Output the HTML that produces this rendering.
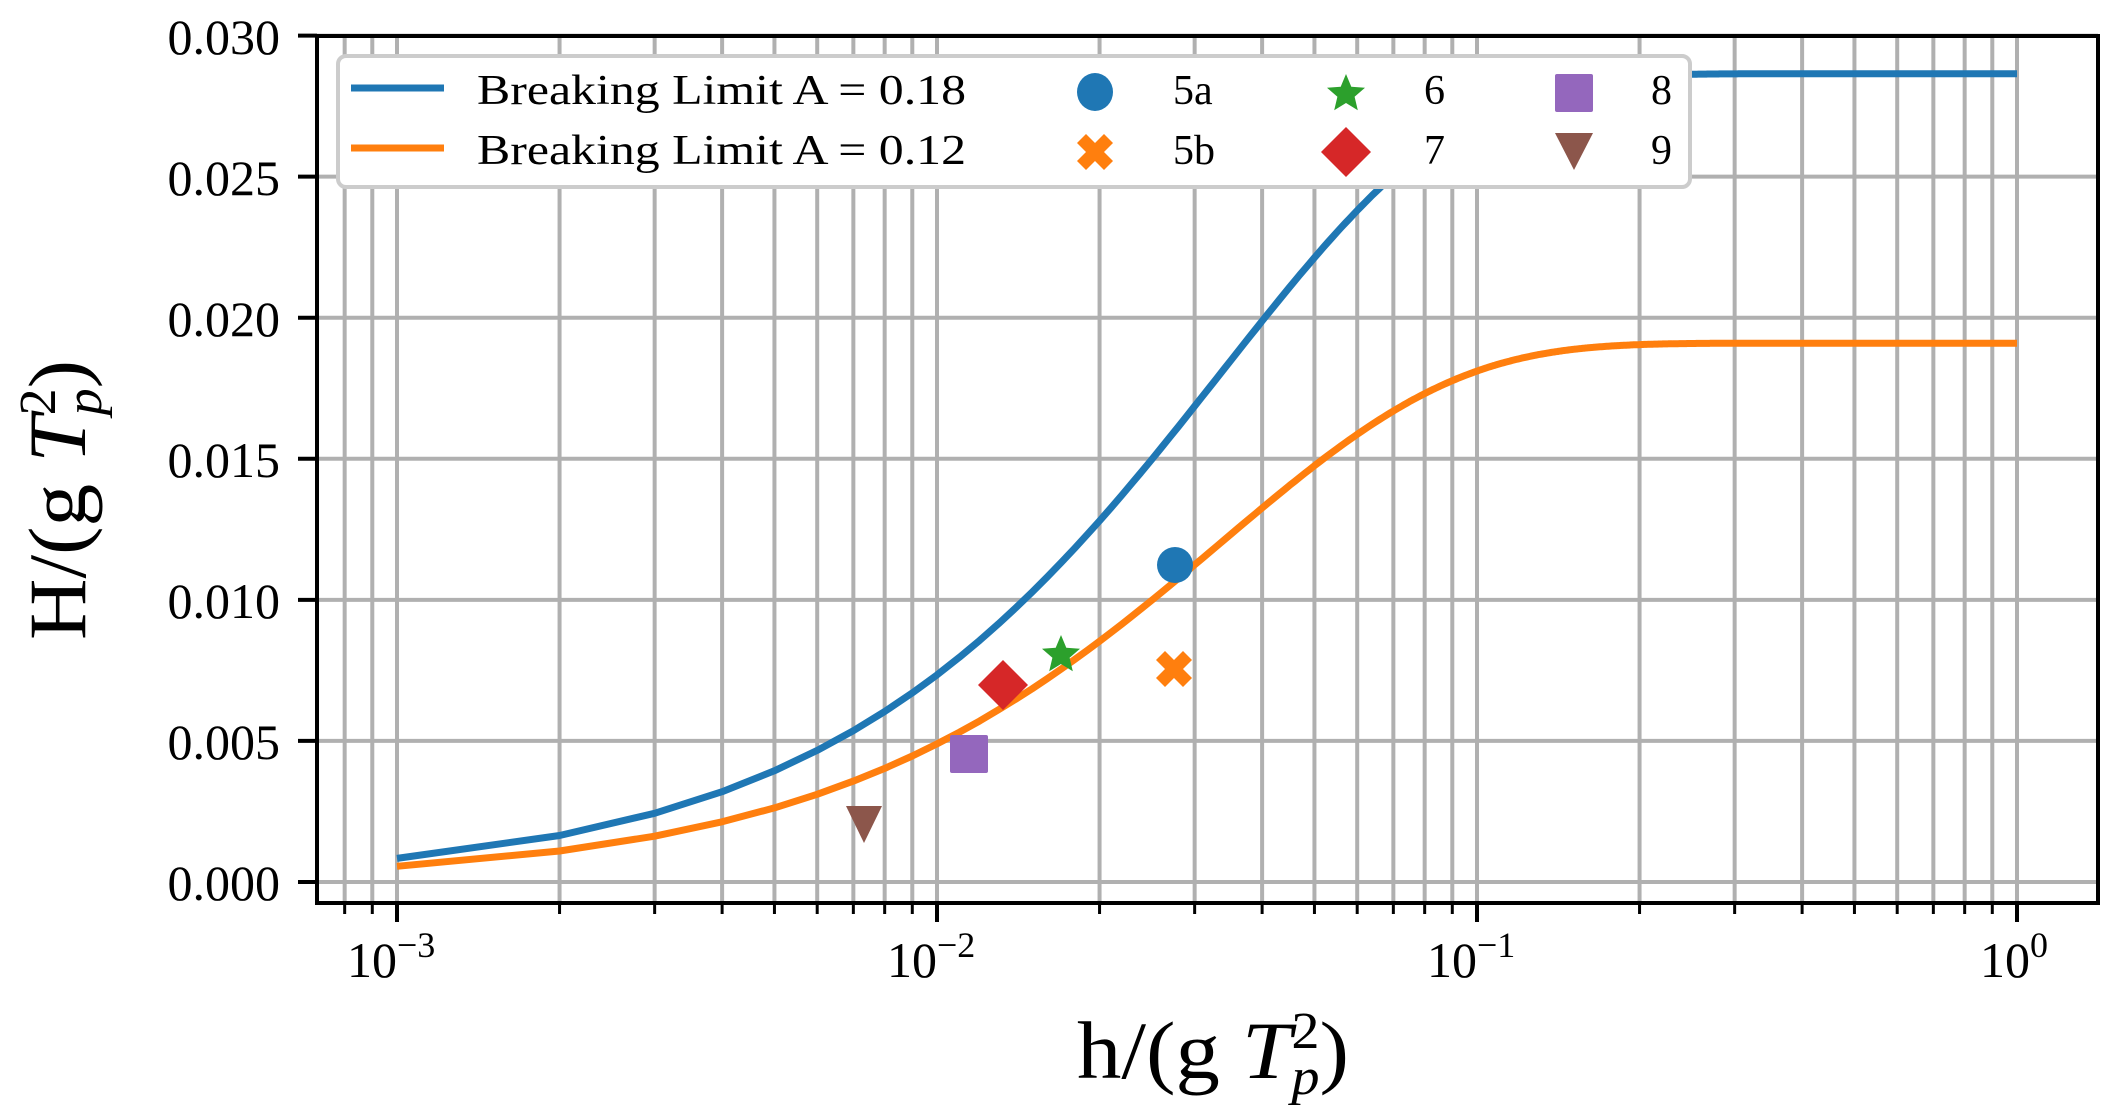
<!DOCTYPE html>
<html><head><meta charset="utf-8"><style>
html,body{margin:0;padding:0;background:#fff;}
svg{display:block;}
text{font-family:"Liberation Serif",serif;fill:#000;}
</style></head><body>
<svg id="s" width="2126" height="1118" viewBox="0 0 2126 1118" xmlns="http://www.w3.org/2000/svg">
<defs><clipPath id="ax"><rect x="317" y="36" width="1781" height="867"/></clipPath></defs>
<g id="grid" stroke="#b0b0b0" stroke-width="4"></g>
<g id="ticks" stroke="#000" stroke-width="3"></g>
<g clip-path="url(#ax)">
<path id="blue" fill="none" stroke="#1f77b4" stroke-width="7" stroke-linejoin="round"/>
<path id="orange" fill="none" stroke="#ff7f0e" stroke-width="7" stroke-linejoin="round"/>
</g>
<!-- markers -->
<circle cx="1175" cy="565" r="18" fill="#1f77b4"/>
<path d="M1174,669 m-18,-9 l9,-9 l9,9 l9,-9 l9,9 l-9,9 l9,9 l-9,9 l-9,-9 l-9,9 l-9,-9 l9,-9z" fill="#ff7f0e"/>
<polygon id="star1" fill="#2ca02c"/>
<polygon points="1003,660 1028,685 1003,710 978,685" fill="#d62728"/>
<rect x="950" y="735" width="38" height="38" rx="2" fill="#9467bd"/>
<polygon points="846,806 882,806 864,843" fill="#8c564b"/>
<!-- spines -->
<rect x="317" y="36" width="1781" height="867" fill="none" stroke="#000" stroke-width="4"/>
<!-- y tick labels -->
<g font-size="50" text-anchor="end">
<text x="280" y="900">0.000</text>
<text x="280" y="759">0.005</text>
<text x="280" y="618">0.010</text>
<text x="280" y="477">0.015</text>
<text x="280" y="336">0.020</text>
<text x="280" y="195">0.025</text>
<text x="280" y="54">0.030</text>
</g>
<!-- x tick labels -->
<g font-size="50">
<text x="347" y="977">10<tspan font-size="36" dy="-20">−3</tspan></text>
<text x="887" y="977">10<tspan font-size="36" dy="-20">−2</tspan></text>
<text x="1427" y="977">10<tspan font-size="36" dy="-20">−1</tspan></text>
<text x="1980" y="977">10<tspan font-size="36" dy="-20">0</tspan></text>
</g>
<!-- axis labels -->
<text x="1077" y="1078" font-size="82" textLength="272" lengthAdjust="spacingAndGlyphs">h/(g <tspan font-style="italic">T</tspan><tspan font-size="52" dy="-30">2</tspan><tspan font-size="52" font-style="italic" dx="-26" dy="46">p</tspan><tspan dy="-16">)</tspan></text>
<text transform="translate(85,640) rotate(-90)" font-size="82" textLength="280" lengthAdjust="spacingAndGlyphs">H/(g <tspan font-style="italic">T</tspan><tspan font-size="52" dy="-30">2</tspan><tspan font-size="52" font-style="italic" dx="-26" dy="46">p</tspan><tspan dy="-16">)</tspan></text>
<!-- legend -->
<rect x="338" y="56" width="1352" height="131" rx="8" fill="#fff" stroke="#cccccc" stroke-width="4"/>
<line x1="351" y1="88" x2="444" y2="88" stroke="#1f77b4" stroke-width="7"/>
<line x1="351" y1="148" x2="444" y2="148" stroke="#ff7f0e" stroke-width="7"/>
<g font-size="42">
<text x="477" y="104" textLength="489" lengthAdjust="spacingAndGlyphs">Breaking Limit A = 0.18</text>
<text x="477" y="164" textLength="489" lengthAdjust="spacingAndGlyphs">Breaking Limit A = 0.12</text>
<text x="1173" y="104">5a</text>
<text x="1173" y="164">5b</text>
<text x="1424" y="104">6</text>
<text x="1424" y="164">7</text>
<text x="1651" y="104">8</text>
<text x="1651" y="164">9</text>
</g>
<ellipse cx="1095" cy="92" rx="18" ry="19" fill="#1f77b4"/>
<path d="M1095,152 m-18,-9 l9,-9 l9,9 l9,-9 l9,9 l-9,9 l9,9 l-9,9 l-9,-9 l-9,9 l-9,-9 l9,-9z" fill="#ff7f0e"/>
<polygon id="star2" fill="#2ca02c"/>
<polygon points="1346,127 1371,152 1346,177 1321,152" fill="#d62728"/>
<rect x="1555" y="74" width="38" height="38" rx="2" fill="#9467bd"/>
<polygon points="1555,133 1593,133 1574,170" fill="#8c564b"/>
</svg>
<script>
(function(){
var X0=397, DEC=540, Y0=882, YS=846.4/0.03;
function px(v){return X0+(Math.log10(v)+3)*DEC;}
function py(v){return Y0-v*YS;}
var g=document.getElementById('grid'), t=document.getElementById('ticks');
var gs='', ts='';
for(var e=-4;e<=0;e++){for(var m=1;m<=9;m++){var v=m*Math.pow(10,e);var x=px(v);
 if(x<319||x>2096)continue;
 gs+='<line x1="'+x+'" y1="36" x2="'+x+'" y2="903"/>';
 var L=(m==1)?19:11;
 ts+='<line x1="'+x+'" y1="903" x2="'+x+'" y2="'+(903+L)+'" stroke-width="'+(m==1?4:3)+'"/>';
 if(e==0)break;}}
for(var k=0;k<=6;k++){var y=py(k*0.005);
 gs+='<line x1="317" y1="'+y+'" x2="2098" y2="'+y+'"/>';
 ts+='<line x1="298" y1="'+y+'" x2="317" y2="'+y+'" stroke-width="4"/>';}
g.innerHTML=gs; t.innerHTML=ts;
function curve(A){var d='';for(var i=1;i<=1000;i++){var h=i*0.001;
 var H=A/(2*Math.PI)*(1-Math.exp(-1.5*Math.PI*2*Math.PI*h));
 d+=(i==1?'M':'L')+px(h).toFixed(1)+','+py(H).toFixed(1);}return d;}
document.getElementById('blue').setAttribute('d',curve(0.18));
document.getElementById('orange').setAttribute('d',curve(0.12));
function star(cx,cy,R){var p=[];for(var i=0;i<10;i++){var r=i%2?R*0.45:R;var a=-Math.PI/2+i*Math.PI/5;p.push((cx+r*Math.cos(a)).toFixed(1)+','+(cy+r*Math.sin(a)).toFixed(1));}return p.join(' ');}
document.getElementById('star1').setAttribute('points',star(1061,655,20));
document.getElementById('star2').setAttribute('points',star(1346,94,20));
})();
</script>
</body></html>
